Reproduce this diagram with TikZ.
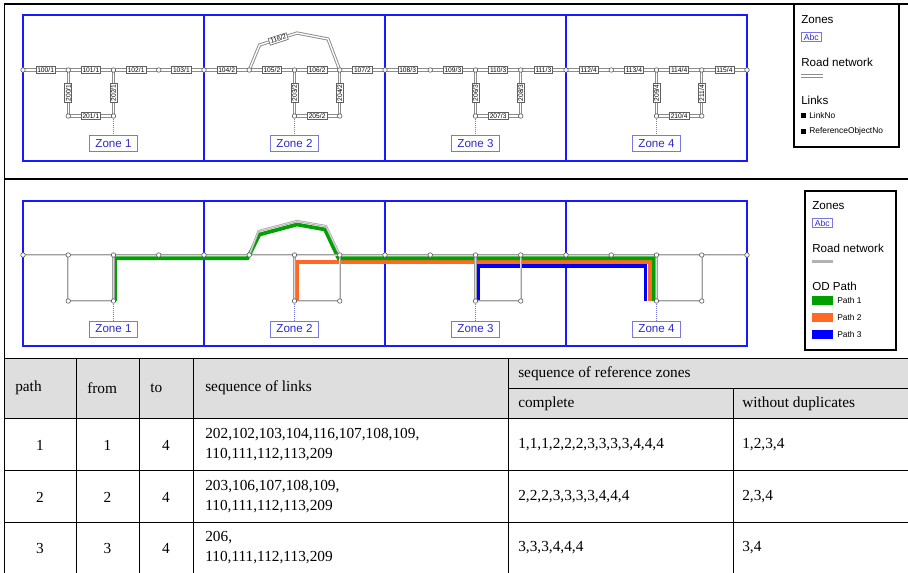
\documentclass[tikz,border=0pt]{standalone}
\usepackage{fontspec}
\setmainfont{Liberation Sans}
\newfontfamily\tabfont{Liberation Serif}
\definecolor{zoneblue}{RGB}{25,25,255}
\definecolor{zltext}{RGB}{45,45,200}
\definecolor{zlborder}{RGB}{120,120,225}
\definecolor{roadgray}{RGB}{140,140,140}
\definecolor{pgreen}{RGB}{0,160,0}
\definecolor{porange}{RGB}{255,105,35}
\definecolor{pblue}{RGB}{0,0,255}
\definecolor{hdrgray}{RGB}{222,222,222}
\begin{document}
\begin{tikzpicture}[x=0.75pt,y=-0.75pt,
  frame/.style={draw=black,line width=1pt},
  zonebox/.style={draw=zoneblue,line width=1.1pt},
  roadT/.style={draw=roadgray,double=white,double distance=1pt,line width=0.7pt},
  roadM/.style={draw=gray!75,double=gray!30,double distance=0.7pt,line width=0.45pt},
  junc/.style={circle,draw=gray!70!black,fill=white,inner sep=0pt,minimum size=3.4pt,line width=0.45pt},
  lnk/.style={draw=gray!75!black,fill=white,font=\fontsize{5}{5.5}\selectfont,inner xsep=1pt,inner ysep=0.4pt,minimum height=5.2pt,line width=0.45pt},
  zlabel/.style={draw=zlborder,fill=white,text=zltext,font=\fontsize{8.7}{10}\selectfont,minimum width=36pt,minimum height=12pt,inner sep=1pt,line width=0.6pt},
  dotl/.style={draw=zlborder,densely dotted,line width=0.5pt},
  pth/.style={line width=2.8pt,line join=miter,line cap=butt},
  legtitle/.style={anchor=west,inner sep=0pt,font=\fontsize{8.7}{10}\selectfont},
  legsmall/.style={anchor=west,inner sep=0pt,font=\fontsize{6.3}{7}\selectfont},
  abc/.style={draw=zlborder,text=zltext,font=\fontsize{6.5}{7}\selectfont,inner xsep=1.8pt,inner ysep=1.2pt,line width=0.6pt,anchor=west},
  tbl/.style={draw=black,line width=0.75pt},
  tcell/.style={font=\tabfont\fontsize{11.5}{15}\selectfont,anchor=west,inner sep=0pt,align=left},
  tnum/.style={font=\tabfont\fontsize{11.5}{15}\selectfont,inner sep=0pt}]
\useasboundingbox (0,0) rectangle (908,572);

% ---------- frames ----------
\draw[frame] (910,4) -- (4.5,4) -- (4.5,358);
\draw[frame] (4.5,179) -- (910,179);

% ---------- coordinates ----------
\foreach \k in {0,...,16} {
  \coordinate (t\k) at ({23+45.25*\k},70);
  \coordinate (m\k) at ({23+45.25*\k},255);
}
\foreach \k in {1,2,6,7,10,11,14,15} {
  \coordinate (tb\k) at ({23+45.25*\k},116);
  \coordinate (mb\k) at ({23+45.25*\k},301);
}
\coordinate (ta1) at (259.5,45);
\coordinate (ta2) at (297,33);
\coordinate (ta3) at (328,39);
\coordinate (ma1) at (258.5,231);
\coordinate (ma2) at (297,221);
\coordinate (ma3) at (326,226);

% ================= TOP PANEL =================
\foreach \i in {0,...,3}
  \draw[zonebox] ({23+181*\i},15) rectangle ({204+181*\i},161);

\draw[roadT] (t0) -- (t16);
\foreach \a/\b in {1/2,6/7,10/11,14/15}
  \draw[roadT] (t\a) -- (tb\a) -- (tb\b) -- (t\b);
\draw[roadT] (t5) -- (ta1) -- (ta2) -- (ta3) -- (t7);

\foreach \k in {0,...,16} \node[junc] (jt\k) at (t\k) {};
\foreach \k in {1,2,6,7,10,11,14,15} \node[junc] (jtb\k) at (tb\k) {};

\foreach \k in {0,...,15} {
  \pgfmathtruncatemacro{\kn}{\k+1}
  \pgfmathtruncatemacro{\lno}{100+\k}
  \pgfmathtruncatemacro{\zno}{1+floor(\k/4)}
  \path (t\k) -- node[lnk] (L\lno) {\lno/\zno} (t\kn);
}
\foreach \k/\n/\z in {1/200/1,2/202/1,6/203/2,7/204/2,10/206/3,11/208/3,14/209/4,15/211/4}
  \path (t\k) -- node[lnk,rotate=90] (L\n) {\n/\z} (tb\k);
\foreach \a/\b/\n/\z in {1/2/201/1,6/7/205/2,10/11/207/3,14/15/210/4}
  \path (tb\a) -- node[lnk] (L\n) {\n/\z} (tb\b);
\path (ta1) -- node[lnk,rotate=18] (L116) {116/2} (ta2);

\foreach \k/\z in {2/1,6/2,10/3,14/4} {
  \node[zlabel] (ZT\z) at ({23+45.25*\k},143.5) {Zone \z};
  \draw[dotl] (jtb\k) -- (ZT\z);
}

% top legend
\draw[draw=black,line width=0.8pt] (794,4) rectangle (899,147);
\node[legtitle] (lgZ) at (801,20) {Zones};
\node[abc] (lgAbc) at (801,37) {Abc};
\node[legtitle] (lgR) at (801,62) {Road network};
\draw[roadT] (801,76) -- (823,76);
\node[legtitle] (lgL) at (801,100) {Links};
\fill (801,113) rectangle (805.5,117.5);
\node[legsmall] (lgL1) at (809,115.5) {LinkNo};
\fill (801,129) rectangle (805.5,133.5);
\node[legsmall] (lgL2) at (809,131.5) {ReferenceObjectNo};

% ================= MIDDLE PANEL =================
\foreach \i in {0,...,3}
  \draw[zonebox] ({23+181*\i},201) rectangle ({204+181*\i},346);

% OD paths
\draw[pth,pblue] (477.7,301) -- (477.7,266.3) -- (645.5,266.3) -- (645.5,301);
\draw[pth,porange] (296.7,301) -- (296.7,262) -- (649.7,262) -- (649.7,301);
\draw[pth,pgreen] (115,301) -- (115,258.3) -- (247.5,258.3) -- (259.5,234.5) -- (297,224.5)
  -- (325,229.5) -- (338.5,258.3) -- (654,258.3) -- (654,301);

% road network
\draw[roadM] (m0) -- (m16);
\foreach \a/\b in {1/2,6/7,10/11,14/15}
  \draw[roadM] (m\a) -- (mb\a) -- (mb\b) -- (m\b);
\draw[roadM] (m5) -- (ma1) -- (ma2) -- (ma3) -- (m7);

\foreach \k in {0,...,16} \node[junc] (jm\k) at (m\k) {};
\foreach \k in {1,2,6,7,10,11,14,15} \node[junc] (jmb\k) at (mb\k) {};

\foreach \k/\z in {2/1,6/2,10/3,14/4} {
  \node[zlabel] (ZM\z) at ({23+45.25*\k},329) {Zone \z};
  \draw[dotl] (jmb\k) -- (ZM\z);
}

% middle legend
\draw[draw=black,line width=0.8pt] (805,191) rectangle (896,350);
\node[legtitle] (mgZ) at (812,206) {Zones};
\node[abc] (mgAbc) at (812,223) {Abc};
\node[legtitle] (mgR) at (812,248) {Road network};
\draw[gray!60,line width=2pt] (812,261.5) -- (833,261.5);
\node[legtitle] (mgP) at (812,286) {OD Path};
\fill[pgreen] (812,296) rectangle (833,305);
\node[legsmall] (mgP1) at (837,300.5) {Path 1};
\fill[porange] (812,312.5) rectangle (833,321.5);
\node[legsmall] (mgP2) at (837,317) {Path 2};
\fill[pblue] (812,329.5) rectangle (833,338.5);
\node[legsmall] (mgP3) at (837,334) {Path 3};

% ================= TABLE =================
\fill[hdrgray] (4.5,358) rectangle (910,418);
\draw[tbl] (4.5,358) -- (910,358);
\draw[tbl] (508,388) -- (910,388);
\draw[tbl] (4.5,418) -- (910,418);
\draw[tbl] (4.5,470) -- (910,470);
\draw[tbl] (4.5,522) -- (910,522);
\foreach \x in {4.5,76,139,193,508} \draw[tbl] (\x,358) -- (\x,574);
\draw[tbl] (733,388) -- (733,574);

\node[tcell] (hPath) at (15,388) {path};
\node[tcell] (hFrom) at (87,388) {from};
\node[tcell] (hTo) at (150,388) {to};
\node[tcell] (hSeq) at (205,388) {sequence of links};
\node[tcell] (hRef) at (518,374) {sequence of reference zones};
\node[tcell] (hComp) at (518,404) {complete};
\node[tcell] (hWo) at (742,404) {without duplicates};

\node[tnum] (r1a) at (40,445) {1};
\node[tnum] (r1b) at (107.5,445) {1};
\node[tnum] (r1c) at (166,445) {4};
\node[tcell] (r1d) at (205,445) {202,102,103,104,116,107,108,109,\\110,111,112,113,209};
\node[tcell] (r1e) at (518,445) {1,1,1,2,2,2,3,3,3,3,4,4,4};
\node[tcell] (r1f) at (742,445) {1,2,3,4};

\node[tnum] (r2a) at (40,497) {2};
\node[tnum] (r2b) at (107.5,497) {2};
\node[tnum] (r2c) at (166,497) {4};
\node[tcell] (r2d) at (205,497) {203,106,107,108,109,\\110,111,112,113,209};
\node[tcell] (r2e) at (518,497) {2,2,2,3,3,3,3,4,4,4};
\node[tcell] (r2f) at (742,497) {2,3,4};

\node[tnum] (r3a) at (40,548) {3};
\node[tnum] (r3b) at (107.5,548) {3};
\node[tnum] (r3c) at (166,548) {4};
\node[tcell] (r3d) at (205,548) {206,\\110,111,112,113,209};
\node[tcell] (r3e) at (518,548) {3,3,3,4,4,4};
\node[tcell] (r3f) at (742,548) {3,4};
\end{tikzpicture}
\end{document}
